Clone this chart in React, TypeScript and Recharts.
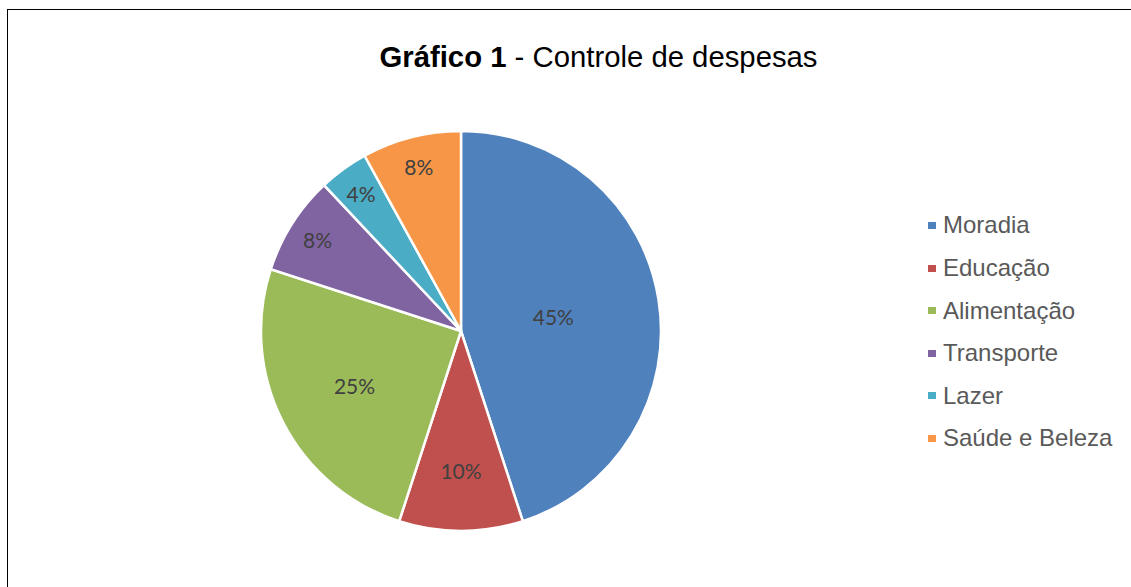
import { PieChart, Pie, Cell, Legend } from 'recharts';

const categories = ['Moradia', 'Educação', 'Alimentação', 'Transporte', 'Lazer', 'Saúde e Beleza'];
const shares = [45, 10, 25, 8, 4, 8];
const colors = ['#4F81BD', '#C0504D', '#9BBB59', '#8064A2', '#4BACC6', '#F79646'];

const data = categories.map((name, i) => ({ name, value: shares[i] }));

const RADIAN = Math.PI / 180;

const renderLabel = (props: any) => {
  const { cx, cy, midAngle, outerRadius, percent } = props;
  // small slices get pushed out towards the rim, big ones sit closer to centre
  const f = percent <= 0.08 ? 0.85 : 0.76 - 0.65 * percent;
  const r = outerRadius * f;
  const x = cx + r * Math.cos(-midAngle * RADIAN);
  const y = cy + r * Math.sin(-midAngle * RADIAN);
  return (
    <text
      x={x}
      y={y}
      fill="#404040"
      fontSize={21}
      fontFamily="Lato, 'Open Sans', sans-serif"
      textAnchor="middle"
      dominantBaseline="central"
    >
      {`${Math.round(percent * 100)}%`}
    </text>
  );
};

const renderLegend = () => (
  <div>
    {categories.map((name, i) => (
      <div key={name} style={{ display: 'flex', alignItems: 'center', height: 42.6 }}>
        <span style={{ width: 8, height: 7, background: colors[i], marginRight: 7 }} />
        <span style={{ fontSize: 24, color: '#595959', fontFamily: "'Liberation Sans', Arial, sans-serif" }}>
          {name}
        </span>
      </div>
    ))}
  </div>
);

const App = () => {
  return (
    <div style={{ position: 'absolute', left: 0, top: 0, width: 1131, height: 587, overflow: 'hidden', background: '#fff' }}>
      <div
        style={{
          position: 'absolute',
          left: 6.5,
          top: 8.5,
          width: 1200,
          height: 700,
          borderTop: '1.5px solid #000',
          borderLeft: '1.5px solid #000',
        }}
      />
      <div
        style={{
          position: 'absolute',
          left: 298.5,
          top: 41.5,
          width: 600,
          textAlign: 'center',
          fontSize: 29.3,
          lineHeight: '29px',
          fontFamily: "'Liberation Sans', Arial, sans-serif",
          color: '#000',
          whiteSpace: 'nowrap',
        }}
      >
        <b>Gráfico 1</b> - Controle de despesas
      </div>
      <div style={{ position: 'absolute', left: 0, top: 0 }}>
        <PieChart width={1131} height={587} margin={{ top: 0, right: 0, bottom: 0, left: 0 }}>
          <Pie
            data={data}
            dataKey="value"
            nameKey="name"
            cx={461}
            cy={331}
            outerRadius={200}
            startAngle={90}
            endAngle={-270}
            stroke="#fff"
            strokeWidth={2.5}
            label={renderLabel}
            labelLine={false}
            isAnimationActive={false}
          >
            {data.map((d, i) => (
              <Cell key={d.name} fill={colors[i]} />
            ))}
          </Pie>
          <Legend
            content={renderLegend}
            wrapperStyle={{ position: 'absolute', left: 928, top: 204.2, width: 200 }}
          />
        </PieChart>
      </div>
    </div>
  );
};

export default App;
